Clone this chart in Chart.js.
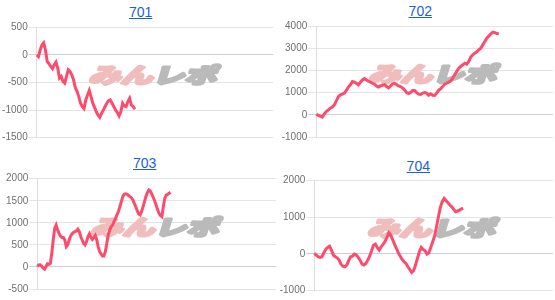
<!DOCTYPE html>
<html>
<head>
<meta charset="utf-8">
<script src="https://cdn.jsdelivr.net/npm/chart.js@4.4.1/dist/chart.umd.min.js"></script>
<style>
  body { margin: 0; width: 555px; height: 300px; overflow: hidden; background: #fff; font-family: Arial, "Liberation Sans", sans-serif; }
  .panel { position: absolute; height: 150px; }
  .panel a { position: absolute; font-size: 14px; line-height: 16px; color: #1a5fd6; text-decoration: underline; transform: translateX(-50%); white-space: nowrap; }
  .panel canvas { position: absolute; left: 0; top: 0; }
</style>
</head>
<body>
<div class="panel" id="p701" style="left:0;top:0;width:277px"><a href="#" style="left:140.7px;top:3.5px">701</a><canvas id="c701" width="277" height="150"></canvas></div>
<div class="panel" id="p702" style="left:277px;top:0;width:278px"><a href="#" style="left:143.3px;top:3px">702</a><canvas id="c702" width="278" height="150"></canvas></div>
<div class="panel" id="p703" style="left:0;top:150px;width:277px"><a href="#" style="left:144.7px;top:4.5px">703</a><canvas id="c703" width="277" height="150"></canvas></div>
<div class="panel" id="p704" style="left:277px;top:150px;width:278px"><a href="#" style="left:141.3px;top:8px">704</a><canvas id="c704" width="278" height="150"></canvas></div>
<script>
// 差枚推移
const machines = ['701', '702', '703', '704'];

const diff701 = [0, -30, 90, 180, 220, 90, -120, -160, -210, -250, -180, -130, -240, -420, -390, -480, -510, -390, -270, -300,
  -360, -450, -590, -660, -755, -875, -935, -970, -815, -725, -645, -755, -875, -950, -1030, -1090, -1130, -1060, -1000, -935,
  -875, -830, -815, -875, -935, -1000, -1045, -1105, -1030, -875, -925, -935, -845, -785, -905, -935, -985];

const diff702 = [30, -30, -60, -100, 40, 150, 220, 300, 350, 450, 630, 820, 900, 930, 975, 1100, 1250, 1350, 1500, 1470,
  1420, 1350, 1470, 1570, 1630, 1570, 1510, 1470, 1420, 1380, 1300, 1250, 1300, 1330, 1360, 1270, 1210, 1300, 1390, 1420,
  1360, 1300, 1270, 1210, 1120, 1000, 960, 1000, 1100, 1100, 1000, 930, 915, 975, 1000, 975, 880, 945, 880, 870,
  975, 1100, 1180, 1270, 1380, 1420, 1470, 1530, 1650, 1800, 1950, 2100, 2175, 2250, 2325, 2280, 2400, 2600, 2700, 2775,
  2835, 2925, 3000, 3150, 3300, 3450, 3550, 3645, 3720, 3700, 3660, 3645];

const diff703 = [10, 45, 50, 20, -30, -50, 10, 70, 60, 80, 310, 610, 875, 950, 840, 760, 700, 670, 670, 610,
  460, 500, 610, 700, 750, 780, 800, 815, 855, 800, 690, 610, 535, 500, 575, 690, 750, 670, 625, 670,
  715, 625, 460, 350, 295, 250, 250, 350, 535, 725, 840, 915, 950, 1025, 1100, 1180, 1255, 1365, 1480, 1595,
  1645, 1655, 1645, 1620, 1595, 1570, 1520, 1440, 1365, 1275, 1200, 1180, 1255, 1365, 1480, 1595, 1685, 1745, 1720, 1655,
  1580, 1500, 1405, 1305, 1215, 1165, 1140, 1365, 1555, 1630, 1645, 1670, 1690];

const diff704 = [10, -35, -80, -100, -80, 25, 120, 175, 210, 100, -35, -80, -110, -175, -285, -340, -355, -310, -190, -80,
  -65, -10, -35, -100, -175, -285, -310, -265, -175, -65, 80, 235, 265, 165, 100, 190, 255, 330, 445, 575,
  510, 390, 265, 145, 25, -65, -155, -220, -265, -355, -430, -510, -465, -310, -130, 55, 175, 120, 80, -10,
  25, 175, 330, 485, 740, 1015, 1270, 1425, 1515, 1450, 1395, 1335, 1285, 1215, 1150, 1170, 1195, 1225, 1240];

// number of slots on the x axis (line stops partway)
const slotCounts = [136, 119, 166, 126];

// y axis ranges
const yMins = [-1500, -1000, -500, -1000];
const yMaxs = [500, 4000, 2000, 2000];
const ySteps = [500, 1000, 500, 1000];

const series = [diff701, diff702, diff703, diff704];

// plot area inside each canvas: left, right, top, bottom
const plotBoxes = [
  [36.7, 273.3, 27.3, 137.7],
  [39.3, 276, 26, 137],
  [37.3, 276.3, 28.7, 139],
  [37.3, 276, 30.7, 140.3]
];

const watermark = {
  id: 'watermark',
  beforeDatasetsDraw(chart) {
    const { ctx, chartArea } = chart;
    const cx = (chartArea.left + chartArea.right) / 2;
    const cy = (chartArea.top + chartArea.bottom) / 2 - 7;
    ctx.save();
    ctx.font = 'bold 21px "Noto Sans CJK JP"';
    ctx.textBaseline = 'middle';
    ctx.lineJoin = 'round';
    ctx.lineWidth = 3;
    const w1 = ctx.measureText('みん').width;
    const w2 = ctx.measureText('レポ').width;
    const sx = 128 / (w1 + w2);
    ctx.translate(cx, cy);
    ctx.transform(sx, 0, -0.3, 1, 0, 0);
    ctx.fillStyle = ctx.strokeStyle = '#f0bdbd';
    ctx.strokeText('みん', -(w1 + w2) / 2, 0);
    ctx.fillText('みん', -(w1 + w2) / 2, 0);
    ctx.fillStyle = ctx.strokeStyle = '#bababa';
    ctx.strokeText('レポ', -(w1 + w2) / 2 + w1, 0);
    ctx.fillText('レポ', -(w1 + w2) / 2 + w1, 0);
    ctx.restore();
  }
};

machines.forEach((name, i) => {
  const canvas = document.getElementById('c' + name);
  const box = plotBoxes[i];
  const labels = Array.from({ length: slotCounts[i] }, (_, k) => k + 1);
  new Chart(canvas, {
    type: 'line',
    data: {
      labels: labels,
      datasets: [{
        data: series[i],
        borderColor: '#fc4b6c',
        borderWidth: 3,
        pointRadius: 0,
        tension: 0,
        fill: false
      }]
    },
    options: {
      responsive: false,
      animation: false,
      events: [],
      layout: {
        padding: { left: 0, top: box[2], right: canvas.width - box[1], bottom: canvas.height - box[3] }
      },
      plugins: { legend: { display: false }, tooltip: { enabled: false } },
      scales: {
        x: { display: false },
        y: {
          min: yMins[i],
          max: yMaxs[i],
          afterFit: function(scale) { scale.width = box[0]; },
          ticks: {
            stepSize: ySteps[i],
            padding: 1,
            color: '#6f6f6f',
            font: { family: 'Arial, "Liberation Sans"', size: 10 },
            callback: value => String(value)
          },
          grid: {
            tickLength: 8,
            color: ctx => ctx.tick && ctx.tick.value === 0 ? '#cfcfcf' : '#e4e4e4'
          },
          border: { color: '#dddddd' }
        }
      }
    },
    plugins: [watermark]
  });
});
</script>
</body>
</html>
